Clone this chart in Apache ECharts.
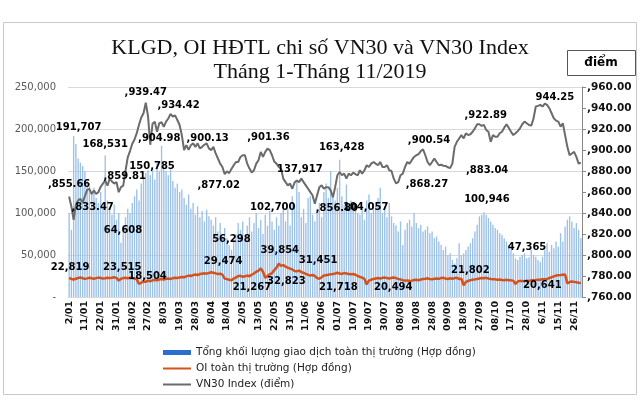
<!DOCTYPE html>
<html>
<head>
<meta charset="utf-8">
<script src="https://cdn.jsdelivr.net/npm/echarts@6/dist/echarts.min.js"></script>
<style>html,body{margin:0;padding:0;background:#fff}#c{width:640px;height:400px}</style>
</head>
<body>
<div id="c"></div>
<script>
// ---- tick labels (every 7th trading day) ----
const tickLabels = ['2/01','11/01','22/01','31/01','18/02','27/02','8/03','19/03','28/03','8/04','18/04','2/05','13/05','22/05','31/05','11/06','20/06','01/07','10/07','19/07','30/07','08/08','19/08','28/08','09/09','18/09','27/09','08/10','17/10','28/10','6/11','15/11','26/11'];
const holidays = ['2019-02-04','2019-02-05','2019-02-06','2019-02-07','2019-02-08','2019-04-15','2019-04-29','2019-04-30','2019-05-01','2019-09-02'];

// ---- series values (one row = 7 trading days) ----
const volume = [
100000,80000,191707,182000,165000,160000,156000,
150000,140000,132000,125000,130000,118000,112000,
125000,108000,168531,115000,105000,98000,110000,
92000,100000,64608,85000,95000,105000,100000,
112000,120000,128000,115000,135000,142000,148000,
150785,145000,155000,140000,160000,150000,180000,
158000,150000,145000,152000,138000,130000,135000,
125000,128000,118000,110000,122000,105000,112000,
98000,108000,95000,102000,90000,104000,96000,
92000,85000,95000,78000,88000,72000,82000,
70000,62000,56298,68000,75000,88000,80000,
90000,72000,85000,95000,78000,88000,100000,
82000,92000,75000,98000,85000,102700,90000,
80000,95000,85000,100000,110000,90000,105000,
85000,120000,110000,137917,125000,95000,105000,
88000,118000,120000,98000,90000,105000,112000,
95000,125000,135000,118000,150000,122000,115000,
130000,163428,120000,110000,134000,104057,115000,
108000,112000,100000,98000,105000,92000,115000,
122000,100000,112000,108000,118000,130000,100000,
108000,95000,112000,96000,88000,85000,78000,
90000,62000,80000,88000,92000,84000,100000,
88000,82000,86000,78000,80000,84000,76000,
78000,70000,72000,66000,62000,56000,60000,
50000,52000,44000,40000,46000,64000,50000,
52000,56000,60000,64000,70000,78000,86000,
96000,98000,100946,98000,94000,90000,86000,
82000,80000,76000,74000,70000,66000,62000,
56000,52000,46000,44000,48000,50000,52000,
46000,47365,56000,50000,48000,44000,42000,
48000,56000,64000,54000,62000,58000,66000,
60000,76000,66000,84000,92000,96000,90000,
82000,88000,80000,70000
];
const oi = [
22819,21500,20800,21800,22600,23200,22400,
21600,22200,22900,22300,21800,22500,23100,
22600,22000,22400,23000,22500,22900,23515,
22800,19500,21800,22500,22800,22300,22900,
22600,22000,21000,15500,17000,18504,18000,
19500,18800,19800,20500,19800,20800,21300,
20800,21600,22000,21500,22400,23000,22500,
23200,23800,23400,24500,25500,25000,26000,
26800,26200,27300,27800,28300,27800,28600,
29474,28800,28200,27300,27800,26600,22000,
21267,20500,20000,22000,23200,24900,25200,
24000,24600,25500,24800,26500,28000,30000,
31500,34000,30000,23000,25000,27000,28500,
32000,35000,39854,37000,38000,36000,35000,
33800,32823,31000,30500,31451,29800,28800,
27500,26300,25500,26200,25000,22500,21718,
23500,25500,26000,26500,27000,27300,28000,
28800,28000,27500,28500,28000,27500,27000,
27300,26500,25000,24000,23000,21500,15000,
19500,20494,21500,22000,22500,22000,22800,
23200,22500,22000,22800,23200,22500,21500,
21000,20000,19500,19800,19000,19500,20200,
20600,20000,20800,21500,21800,22200,21500,
21000,21800,22000,21600,22500,22800,22000,
21500,22300,21802,22500,22800,21500,21800,
14000,18000,19000,20000,20500,21000,21500,
22000,22500,22300,22800,22000,21500,21200,
21000,20500,20800,20200,20000,20500,20000,
19800,19500,15500,18500,19200,19000,18800,
19500,19200,19800,20000,20200,20500,20641,
21000,21200,21500,22500,23500,24500,25500,
26000,26200,26500,26800,16000,18000,18500,
18000,17500,17000,16800
];
const vn30 = [
855.66,846,833.47,848,852,853.5,850,
856,862,863,858,861.5,858,860,
865,868,871,866,872.7,870,868,
869.5,859.81,864.6,866,880,893,899,
906,910,916,924,931,935,945,
932,904.98,925,927,917.4,925.5,926.4,
922,927,930,934.42,931.8,933,928.6,
923.8,914,900,904.6,900.13,904.6,906.3,
903,906.3,901.5,903,905,906.3,901.5,
899.9,903,896.7,891.9,887,883.8,877.02,
879.7,878,882,885.5,888.6,888.6,893.4,
895,895,887,882.3,878.5,880.7,887,
890.3,898.2,893.4,898.2,901.36,899.9,895,
889,887,883.8,882.3,872.7,869.4,866.3,
868,863.1,869,871,869.4,872.7,869.4,
866.3,863.1,859.9,856.7,848.7,856.8,864.6,
866.3,863.1,864.6,864.6,861.5,855,864.6,
875.9,879,875.9,877.5,872.7,877.5,875.9,
878.5,877,875.9,880.7,877.5,880.7,885.5,
883.8,887,888.6,887,885.5,888.6,883.8,
883.8,885.5,880.7,880,872.7,868.27,869.4,
875.9,877.5,883.8,888.6,887,890.3,893.4,
895,896,899,900.54,895,888.6,885.5,
888.6,891.9,888.6,885.5,886,885,884.8,
883.5,882.9,887,903,907.8,911,914.2,
911,915.9,914.2,915,917.4,920.6,924.5,
924.5,922.89,924,919,917.4,907.8,914.2,
912.6,912.6,915.9,917.4,921.2,924.5,921.2,
917.4,914.2,915.9,918,920.6,924.5,927,
925.5,923.8,923.2,930,941.4,942,943,
941.4,944.25,943,939.8,935,930.2,928,
927,922.2,925.5,914.2,903,895,896.7,
898.2,893.4,887,888
];

// ---- data-label annotations: [index, text] ----
const volLabelIdx = [[2,'191,707'],[16,'168,531'],[35,'150,785'],[23,'64,608'],[72,'56,298'],[89,'102,700'],[101,'137,917'],[120,'163,428'],[124,'104,057'],[184,'100,946'],[204,'47,365']];
const oiLabelIdx = [[0,'22,819'],[20,'23,515'],[33,'18,504'],[63,'29,474'],[70,'21,267'],[93,'39,854'],[99,'32,823'],[102,'31,451'],[111,'21,718'],[134,'20,494'],[170,'21,802'],[209,'20,641']];
const vnLabelIdx = [[0,',855.66'],[2,',833.47'],[22,',859.81'],[34,',939.47'],[45,',934.42'],[36,',904.98'],[53,',900.13'],[69,',877.02'],[88,',901.36'],[109,',856.80'],[157,',900.54'],[145,',868.27'],[183,',922.89'],[169,',883.04'],[211,'944.25']];
// label offsets (style) in px, same order as above
const volLabelOff = [[5,-9],[0,-11],[4,-4],[2,-12],[0,-10],[3,-3],[3,-12],[2,-12],[17,-2],[3,-13],[-2,-10]];
const oiLabelOff = [[1,-10],[8,-10],[4,-5],[12,-11],[25,8],[1,-13],[-6,12],[19,-10],[19,9],[22,8],[18,-8],[2,6]];
const vnLabelOff = [[0,-12],[19,-12],[6,-16],[0,-10],[8,-8],[9,-6],[19,-11],[-6,11],[1,-11],[22,5],[6,-9],[31,1],[4,-11],[37,2],[10,-6]];

// ---- categories: trading days 2019 ----
function tradingDays(){
  const out=[]; const d=new Date(Date.UTC(2019,0,2)); const end=Date.UTC(2019,10,29);
  while(d.getTime()<=end){
    const wd=d.getUTCDay(); const iso=d.toISOString().slice(0,10);
    if(wd!==0&&wd!==6&&!holidays.includes(iso)) out.push(iso);
    d.setUTCDate(d.getUTCDate()+1);
  }
  return out;
}
const cats = tradingDays();

const volName='Tổng khối lượng giao dịch toàn thị trường (Hợp đồng)';
const oiName='OI toàn thị trường (Hợp đồng)';
const vnName='VN30 Index (điểm)';
const FONT='DejaVu Sans';

function mp(lbls, offs, values){
  return {
    symbol:'circle', symbolSize:0, silent:true, animation:false,
    label:{show:true, position:'inside', color:'#000', fontFamily:FONT, fontWeight:'bold', fontSize:10},
    data: lbls.map(([i,t],k)=>({coord:[cats[i], values[i]], value:t, label:{offset:offs[k], formatter:t}}))
  };
}

const chart = echarts.init(document.getElementById('c'), null, {renderer:'canvas'});
chart.setOption({
  animation:false,
  backgroundColor:'#fff',
  title:[
    {text:'KLGD, OI HĐTL chi số VN30 và VN30 Index', left:'center', top:32, textStyle:{fontFamily:'Liberation Serif', fontSize:22, fontWeight:'normal', color:'#111'}},
    {text:'Tháng 1-Tháng 11/2019', left:'center', top:56, textStyle:{fontFamily:'Liberation Serif', fontSize:22, fontWeight:'normal', color:'#111'}}
  ],
  graphic:[
    {type:'rect', shape:{x:3.5,y:22.5,width:633,height:372}, style:{fill:'none', stroke:'#c9c9c9', lineWidth:1}},
    {type:'rect', shape:{x:567.5,y:50.5,width:68,height:25}, style:{fill:'#fff', stroke:'#555', lineWidth:1}},
    {type:'text', x:601, y:63, style:{text:'điểm', fontFamily:FONT, fontWeight:'bold', fontSize:12, fill:'#000', textAlign:'center', textVerticalAlign:'middle'}}
  ],
  legend:{
    orient:'vertical', left:158, top:342, itemGap:5, itemWidth:28, itemHeight:5, symbolKeepAspect:true,
    textStyle:{fontFamily:FONT, fontSize:10.5, color:'#222'},
    data:[
      {name:volName, icon:'rect', itemStyle:{color:'#2a6fd0'}},
      {name:oiName, icon:'path://M0,0H28V2H0Z'},
      {name:vnName, icon:'path://M0,0H28V2H0Z'}
    ]
  },
  grid:{left:68, right:58, top:87, bottom:103},
  xAxis:{
    type:'category', data:cats, boundaryGap:true,
    axisLine:{lineStyle:{color:'#d9d9d9'}}, axisTick:{show:false},
    axisLabel:{interval:6, rotate:90, margin:4, fontFamily:FONT, fontSize:9.5, fontWeight:'bold', color:'#111',
      formatter:(v,idx)=> (idx%7===0 ? (tickLabels[idx/7]||'') : '')}
  },
  yAxis:[
    {type:'value', min:0, max:250000, interval:50000,
     axisLine:{show:false}, axisTick:{show:false},
     splitLine:{lineStyle:{color:'#d9d9d9'}},
     axisLabel:{margin:12, fontFamily:FONT, fontSize:10, color:'#595959',
       formatter:v=> v===0 ? '-' : v.toLocaleString('en-US')}},
    {type:'value', min:760, max:960, interval:20, position:'right',
     axisLine:{show:true, lineStyle:{color:'#888'}}, axisTick:{show:true, length:4, lineStyle:{color:'#888'}},
     splitLine:{show:false},
     axisLabel:{margin:5, fontFamily:FONT, fontSize:10.5, fontWeight:'bold', color:'#111',
       formatter:v=> ','+v.toFixed(2)}}
  ],
  series:[
    {type:'bar', name:volName, data:volume, yAxisIndex:0, barCategoryGap:'40%',
     itemStyle:{color:'#9bc0ea'}, z:1, markPoint:mp(volLabelIdx, volLabelOff, volume)},
    {type:'line', name:oiName, data:oi, yAxisIndex:0, showSymbol:false, symbol:'none',
     lineStyle:{color:'#d4521c', width:2.5}, itemStyle:{color:'#d4521c'}, z:3,
     markPoint:mp(oiLabelIdx, oiLabelOff, oi)},
    {type:'line', name:vnName, data:vn30, yAxisIndex:1, showSymbol:false, symbol:'none',
     lineStyle:{color:'#6b6b6b', width:2}, itemStyle:{color:'#6b6b6b'}, z:4,
     markPoint:mp(vnLabelIdx, vnLabelOff, vn30)}
  ]
});
</script>
</body>
</html>
